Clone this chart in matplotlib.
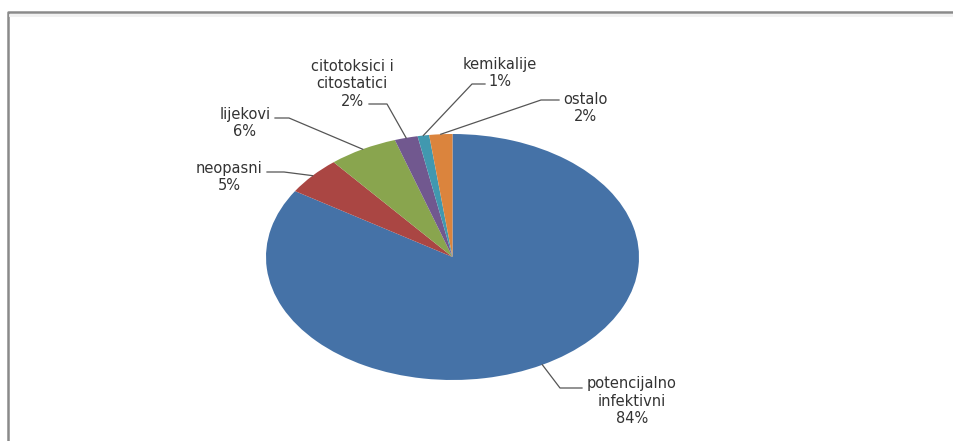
import numpy as np
import matplotlib.pyplot as plt
from matplotlib.lines import Line2D

# slice data, clockwise from 12 o'clock
categories = ["potencijalno\ninfektivni", "neopasni", "lijekovi",
              "citotoksici i\ncitostatici", "kemikalije", "ostalo"]
shares = [84, 5, 6, 2, 1, 2]
colors = ["#4572A7", "#AA4643", "#89A54E", "#71588F", "#4198AF", "#DB843D"]

# label block centres and leader start/elbow, in pixels from top-left
label_xy = [(632, 401), (229, 177), (245, 123), (352, 84), (500, 73), (585, 108)]
leader_start = [(582, 388), (267, 172), (275, 118), (369, 104), (485, 84), (559, 100)]
leader_elbow = [(560, 388), (284, 172), (289, 118), (387, 104), (472, 84), (541, 100)]

W, H = 954, 441
fig = plt.figure(figsize=(W / 100, H / 100), dpi=100)
fig.patch.set_facecolor("white")

# pie drawn in a non-square axes -> ellipse like the original
pie_ax = fig.add_axes([266 / W, (H - 380) / H, 373 / W, 246 / H])
wedges, _ = pie_ax.pie(shares, colors=colors, startangle=90, counterclock=False,
                       wedgeprops=dict(linewidth=0))
pie_ax.set_aspect("auto")
pie_ax.set_xlim(-1, 1)
pie_ax.set_ylim(-1, 1)
pie_ax.axis("off")

# overlay in pixel coordinates for labels, leaders and frame
ov = fig.add_axes([0, 0, 1, 1], facecolor="none")
ov.set_xlim(0, W)
ov.set_ylim(H, 0)
ov.axis("off")

# frame (cropped at right and bottom in the original)
ov.add_line(Line2D([8, 8, W + 5], [H + 5, 11.5, 11.5], color="#8a8a8a", lw=1.8))
ov.add_line(Line2D([10, W + 5], [15, 15], color="#f0f0f0", lw=2))

to_ov = ov.transData.inverted()
for i, w in enumerate(wedges):
    mid = np.deg2rad((w.theta1 + w.theta2) / 2)
    pt = pie_ax.transData.transform((np.cos(mid), np.sin(mid)))
    ex, ey = to_ov.transform(pt)
    pct = f"{shares[i]}%"
    ov.text(label_xy[i][0], label_xy[i][1], f"{categories[i]}\n{pct}",
            ha="center", va="center", multialignment="center",
            fontsize=10.5, linespacing=1.2, color="#333333", family="DejaVu Sans")
    xs = [leader_start[i][0], leader_elbow[i][0], ex]
    ys = [leader_start[i][1], leader_elbow[i][1], ey]
    ov.add_line(Line2D(xs, ys, color="#555555", lw=0.9))

fig.savefig("out.png", dpi=100)
